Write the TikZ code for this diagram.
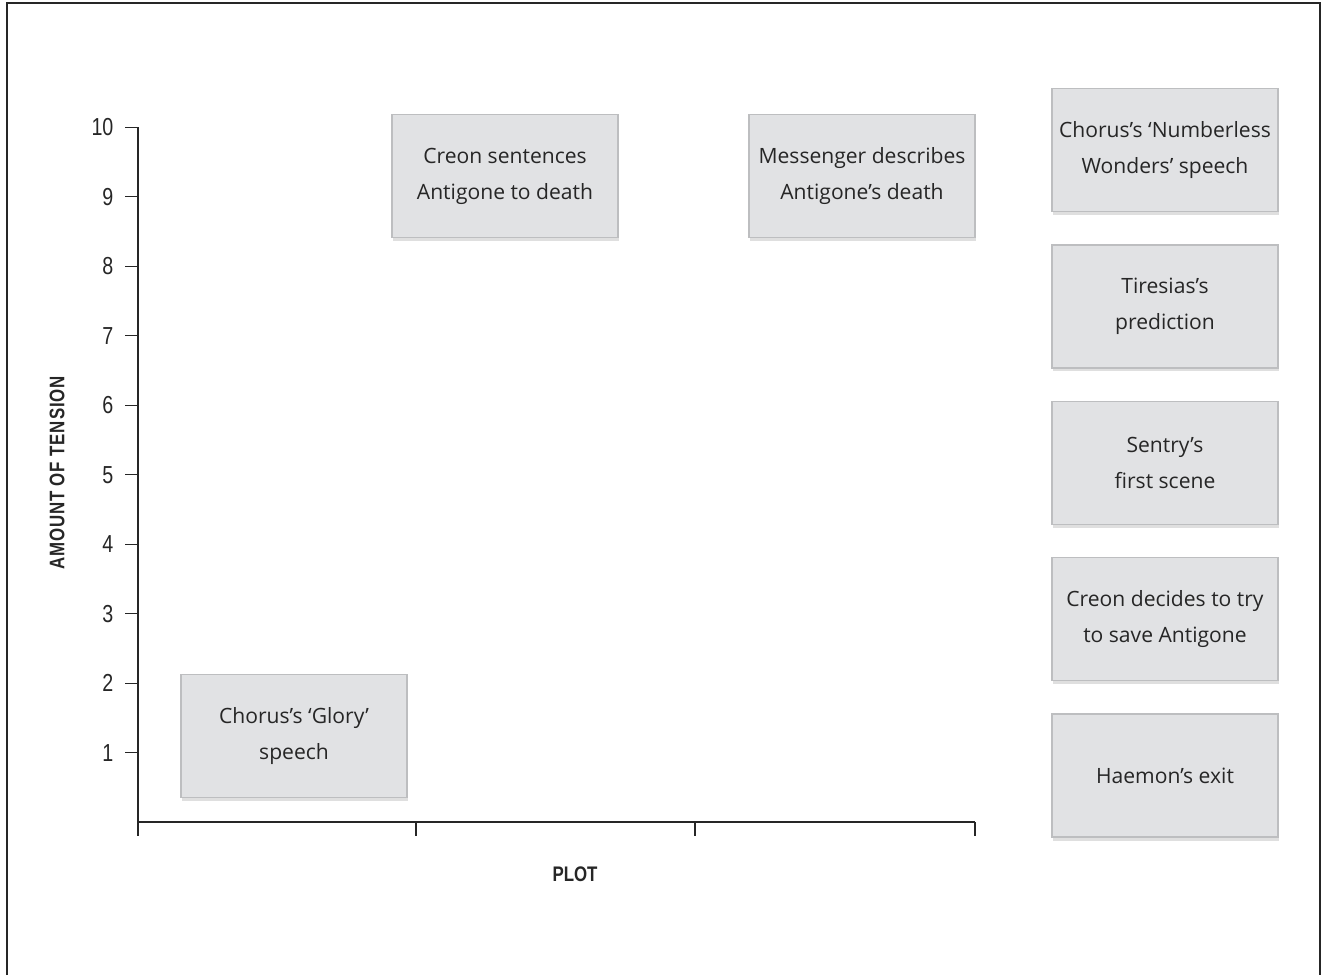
\documentclass[tikz,border=0pt]{standalone}
\usepackage{fontspec}
\setmainfont{Open Sans}
\newfontfamily\axisfont[FakeStretch=0.8]{Liberation Sans}
\usepackage{tikz}
\usetikzlibrary{positioning, shadows}

\definecolor{notegray}{HTML}{E1E2E4}
\definecolor{noteline}{HTML}{BDBEC0}
\definecolor{inkgray}{HTML}{262626}

\tikzset{
  note/.style={draw=noteline, fill=notegray, minimum width=4.52cm, minimum height=2.46cm,
    inner xsep=1pt, align=center, text=inkgray, font=\fontsize{12}{20.5}\selectfont,
    drop shadow={shadow xshift=0.6pt, shadow yshift=-2pt, opacity=0.25}},
  axislbl/.style={font=\axisfont\bfseries\fontsize{12}{14}\selectfont, text=inkgray},
  ticklbl/.style={font=\axisfont\fontsize{14}{16}\selectfont, text=inkgray, anchor=east}
}

\begin{document}
\begin{tikzpicture}[x=0.02cm, y=-0.02cm, line width=0.8pt]
	\useasboundingbox (0,0) rectangle (1322,975);
	% frame, open at the bottom
	\draw [line width=1pt, inkgray] (7,975) -- (7,3) -- (1320,3) -- (1320,975);

	% axes
	\coordinate (origin) at (138,822);
	\coordinate (ytop) at (138,127);
	\coordinate (xend) at (975,822);
	\draw [inkgray] (ytop) -- (origin) -- (xend);
	\foreach \n in {1,...,10} {
		\draw [inkgray, line width=0.6pt] (125,822-69.45*\n) -- (138,822-69.45*\n);
		\node [ticklbl] (t\n) at (120,822-69.45*\n) {\n};
	}
	\foreach \x in {138,416,695,975}
		\draw [inkgray, line width=0.6pt] (\x,822) -- (\x,836);

	\node [axislbl] (plot) at (575,874) {PLOT};
	\node [axislbl, rotate=90] (tension) at (57,473) {\addfontfeature{LetterSpace=4}AMOUNT OF TENSION};

	% notes on the chart
	\node [note] (glory) at (294,736) {Chorus's `Glory'\\speech};
	\node [note] (sentence) at (505,176) {Creon sentences\\Antigone to death};
	\node [note] (messenger) at (862,176) {Messenger describes\\Antigone's death};

	% notes still to place
	\node [note] (wonders) at (1165,150) {Chorus's `Numberless\\Wonders' speech};
	\node [note, below=0.64cm of wonders] (tiresias) {Tiresias's\\prediction};
	\node [note, below=0.64cm of tiresias] (sentry) {Sentry's\\first scene};
	\node [note, below=0.64cm of sentry] (decides) {Creon decides to try\\to save Antigone};
	\node [note, below=0.64cm of decides] (haemon) {Haemon's exit};
\end{tikzpicture}
\end{document}
